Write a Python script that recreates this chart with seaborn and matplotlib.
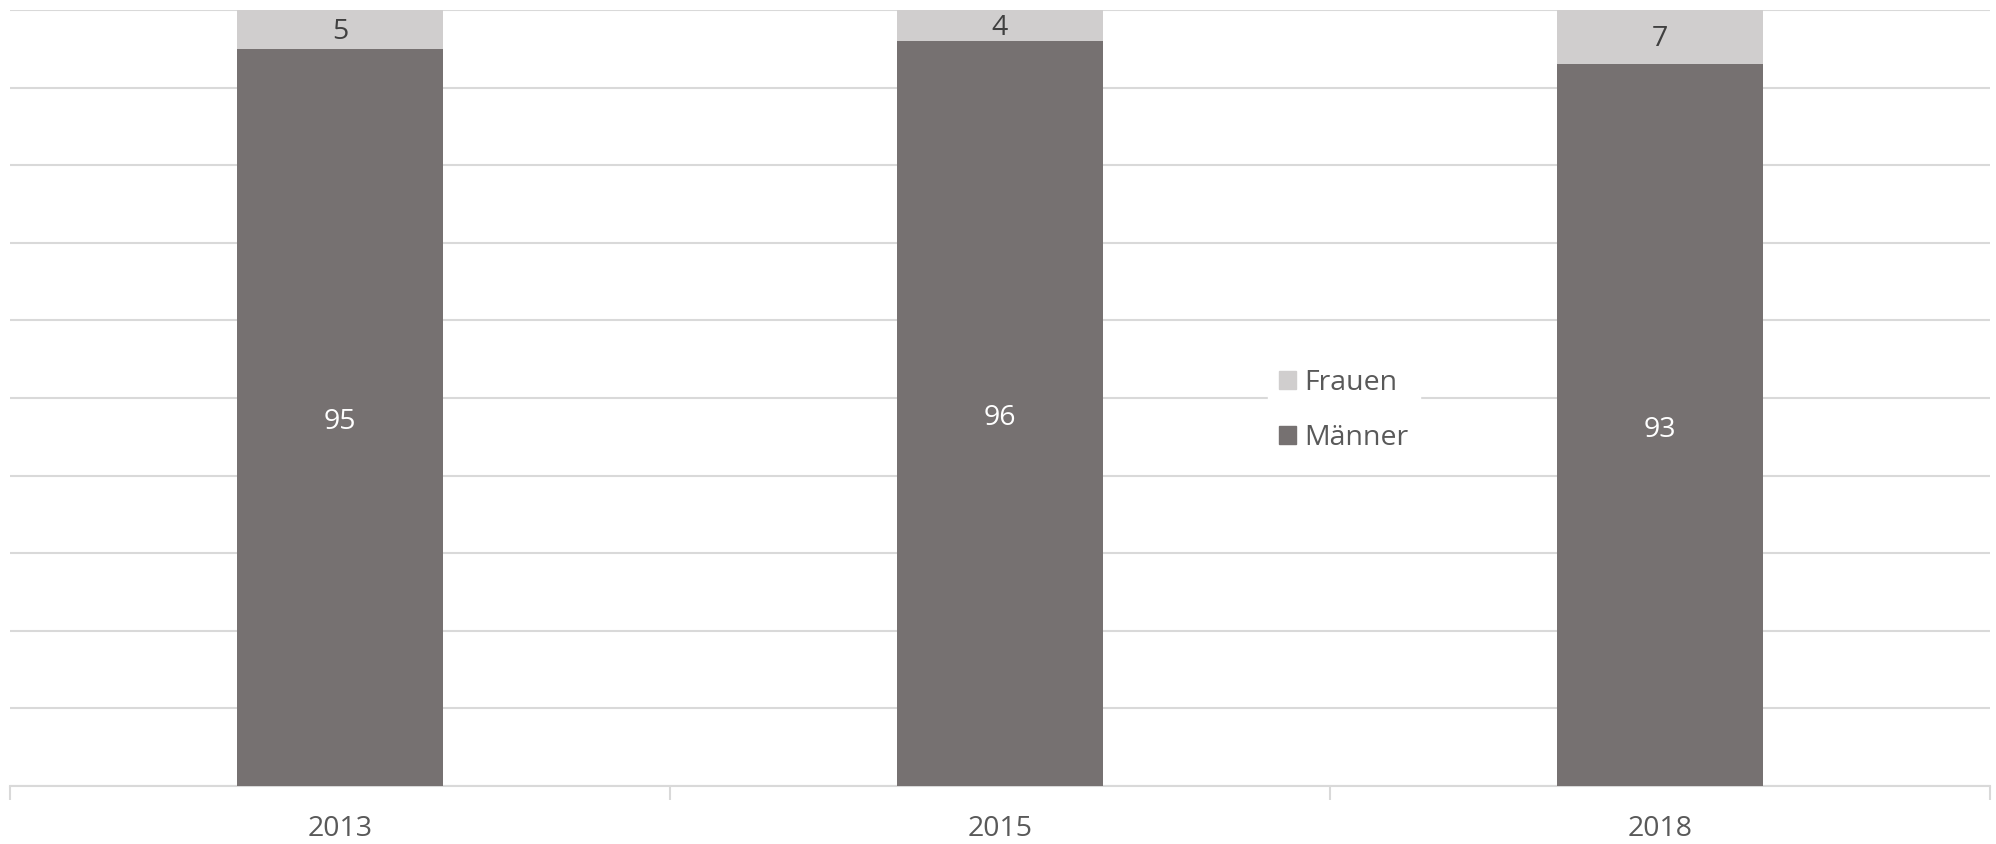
import numpy as np
import pandas as pd
import matplotlib
matplotlib.use("Agg")
import matplotlib.pyplot as plt
from matplotlib.patches import Patch
import seaborn as sns

years = ["2013", "2015", "2018"]
maenner = [95, 96, 93]
frauen = [5, 4, 7]

C_M = "#767171"
C_F = "#D0CECE"
GRID = "#D9D9D9"
TXT = "#595959"
FS = 20.5

sns.set_theme(style="white")
plt.rcParams["font.family"] = ["Open Sans", "DejaVu Sans"]

df = pd.DataFrame({"year": years, "Männer": maenner, "Frauen": frauen})
df["total"] = df["Männer"] + df["Frauen"]

fig = plt.figure(figsize=(19.96, 8.44), dpi=100)
ax = fig.add_axes([10 / 1996, 58 / 844, 1980 / 1996, 776 / 844])

sns.barplot(data=df, x="year", y="total", color=C_F, width=0.312,
            saturation=1, linewidth=0, ax=ax, zorder=2)
sns.barplot(data=df, x="year", y="Männer", color=C_M, width=0.312,
            saturation=1, linewidth=0, ax=ax, zorder=3)

ax.set_ylim(0, 100)
ax.set_xlim(-0.5, len(years) - 0.5)
ax.set_yticks(np.arange(0, 101, 10))
ax.set_yticklabels([])
ax.yaxis.grid(True, color=GRID, lw=1.5, zorder=0)
ax.set_axisbelow(True)
ax.tick_params(axis="y", length=0)
for s in ["top", "right", "left"]:
    ax.spines[s].set_visible(False)
ax.spines["bottom"].set_color(GRID)
ax.spines["bottom"].set_linewidth(1.5)

ax.set_xticks(np.arange(-0.5, len(years), 1.0), minor=True)
ax.tick_params(axis="x", which="minor", bottom=True, length=10, width=1.5, color=GRID)
ax.tick_params(axis="x", which="major", length=0, pad=21, labelsize=FS, labelcolor=TXT)
ax.set_xlabel("")
ax.set_ylabel("")

for i, (m, f) in enumerate(zip(maenner, frauen)):
    ax.text(i, m / 2 - 0.6, str(m), ha="center", va="center", color="white", fontsize=FS, zorder=4)
    ax.text(i, m + f / 2 - 0.3, str(f), ha="center", va="center", color="#404040", fontsize=FS, zorder=4)

handles = [Patch(color=C_F, label="Frauen"), Patch(color=C_M, label="Männer")]
leg = ax.legend(handles=handles, loc="center left", bbox_to_anchor=(0.628, 0.484),
                frameon=True, fontsize=FS, handlelength=0.6, handleheight=0.6,
                handletextpad=0.3, labelspacing=0.95, borderpad=0.4, fancybox=False)
leg.get_frame().set_facecolor("white")
leg.get_frame().set_edgecolor("white")
leg.get_frame().set_alpha(1)
for t in leg.get_texts():
    t.set_color(TXT)

plt.savefig("out.png", dpi=100)
